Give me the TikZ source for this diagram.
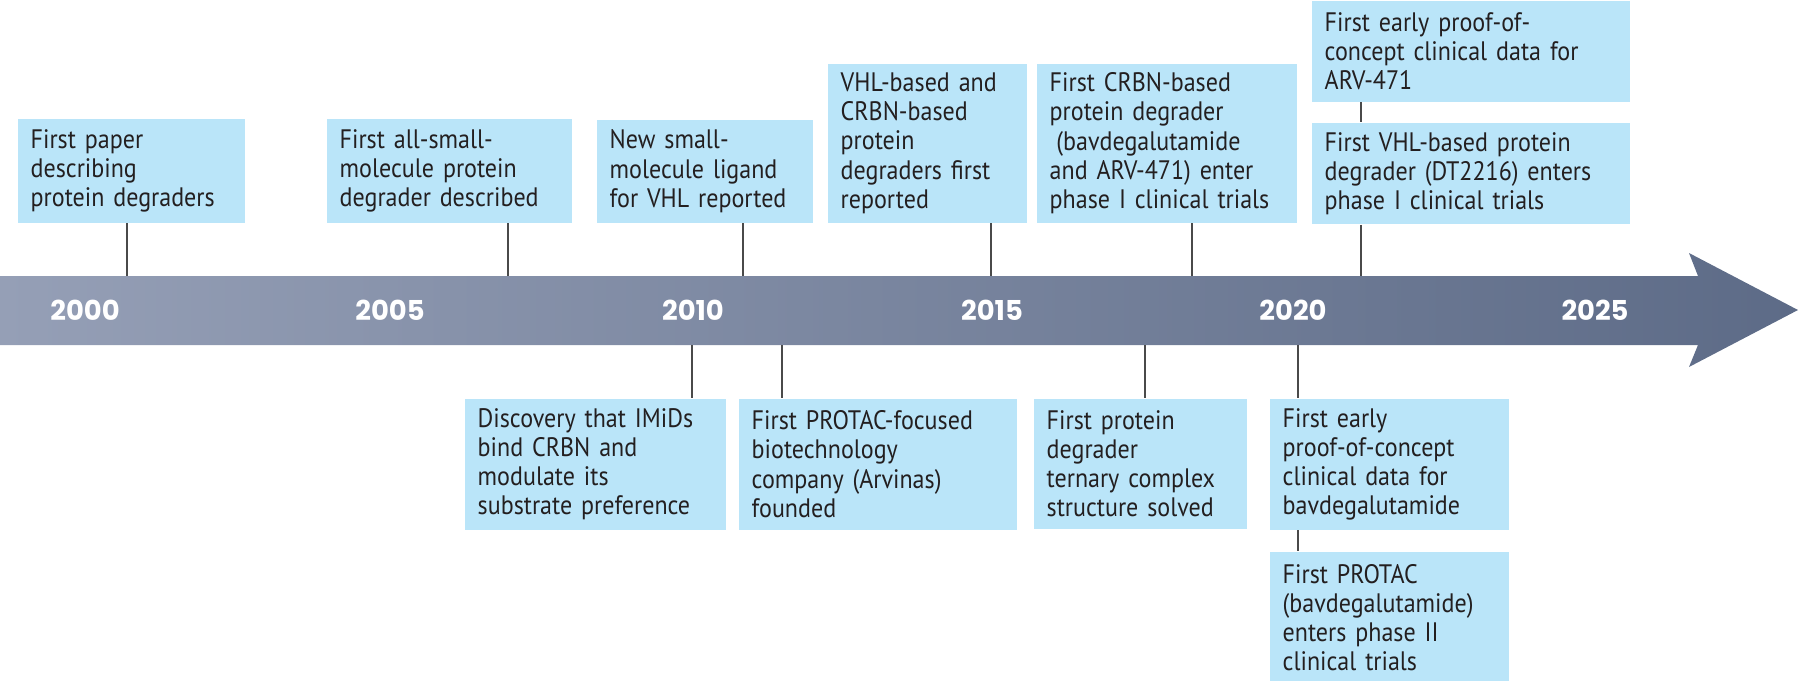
\documentclass[tikz,border=0pt]{standalone}
\usepackage{fontspec}
\setmainfont{PT Sans}[FakeStretch=0.9]
\newfontfamily\yearfont{Poppins}
\usetikzlibrary{positioning}
\usepackage{xcolor}
\definecolor{boxblue}{HTML}{BAE5F9}
\definecolor{bandleft}{HTML}{959FB6}
\definecolor{bandright}{HTML}{5D6B87}
\definecolor{stemgray}{HTML}{4A4A4A}
\definecolor{textdark}{HTML}{231F20}
\hyphenpenalty=10000

\begin{document}
\begin{tikzpicture}
      \tikzstyle{event} = [rectangle, fill=boxblue, anchor=north west, align=left, inner xsep=0.13cm, inner ysep=0pt, text=textdark, font=\fontsize{7.6}{8.3}\selectfont]
      \tikzstyle{year} = [text=white, font={\yearfont\bfseries\fontsize{7.8}{9}\selectfont}]
      \tikzstyle{stem} = [draw=stemgray, line width=0.45pt]

      \useasboundingbox (0,0) rectangle (18,-6.81);

      % timeline arrow
      \shade[left color=bandleft, right color=bandright] (0,-2.76) -- (16.98,-2.76) -- (16.89,-2.53) -- (17.98,-3.10) -- (16.89,-3.67) -- (16.98,-3.45) -- (0,-3.45) -- cycle;

      \node[year] (y2000) at (0.85,-3.10) {2000};
      \node[year] (y2005) at (3.90,-3.10) {2005};
      \node[year] (y2010) at (6.93,-3.10) {2010};
      \node[year] (y2015) at (9.92,-3.10) {2015};
      \node[year] (y2020) at (12.93,-3.10) {2020};
      \node[year] (y2025) at (15.95,-3.10) {2025};

      % where the stems meet the arrow
      \coordinate (s1) at (1.27,-2.76);
      \coordinate (s2) at (5.08,-2.76);
      \coordinate (s3) at (7.43,-2.76);
      \coordinate (s4) at (9.91,-2.76);
      \coordinate (s5) at (11.92,-2.76);
      \coordinate (s7) at (13.61,-2.76);
      \coordinate (s8) at (6.92,-3.45);
      \coordinate (s9) at (7.82,-3.45);
      \coordinate (s10) at (11.45,-3.45);
      \coordinate (s11) at (12.98,-3.45);

      % above the arrow
      \node[event, text width=2.01cm, minimum height=1.04cm] (b1) at (0.17,-1.18) {First paper\\describing\\protein degraders};
      \node[event, text width=2.19cm, minimum height=1.04cm] (b2) at (3.26,-1.18) {First all-small-\\molecule protein\\degrader described};
      \node[event, text width=1.90cm, minimum height=1.03cm] (b3) at (5.96,-1.19) {New small-\\molecule ligand\\for VHL reported};
      \node[event, text width=1.73cm, minimum height=1.59cm] (b4) at (8.27,-0.63) {VHL-based and\\CRBN-based\\protein\\degraders first\\reported};
      \node[event, text width=2.34cm, minimum height=1.59cm] (b5) at (10.36,-0.63) {First CRBN-based\\protein degrader\\\hspace*{0.25em}(bavdegalutamide\\and ARV-471) enter\\phase I clinical trials};
      \node[event, text width=2.92cm, minimum height=1.01cm] (b6) at (13.11,0) {First early proof-of-\\concept clinical data for\\ARV-471};
      \node[event, text width=2.92cm, minimum height=1.01cm, below=0.20cm of b6] (b7) {First VHL-based protein\\degrader (DT2216) enters\\phase I clinical trials};

      % below the arrow
      \node[event, text width=2.35cm, minimum height=1.31cm] (b8) at (4.64,-3.98) {Discovery that IMiDs\\bind CRBN and\\modulate its\\substrate preference};
      \node[event, text width=2.52cm, minimum height=1.31cm] (b9) at (7.38,-3.98) {First PROTAC-focused\\biotechnology\\company (Arvinas)\\founded};
      \node[event, text width=1.87cm, minimum height=1.30cm] (b10) at (10.33,-3.98) {First protein\\degrader\\ternary complex\\structure solved};
      \node[event, text width=2.13cm, minimum height=1.31cm] (b11) at (12.69,-3.98) {First early\\proof-of-concept\\clinical data for\\bavdegalutamide};
      \node[event, text width=2.13cm, minimum height=1.31cm, below=0.21cm of b11] (b12) {First PROTAC\\(bavdegalutamide)\\enters phase II\\clinical trials};

      % stems
      \draw[stem] (b1.south -| s1) -- (s1);
      \draw[stem] (b2.south -| s2) -- (s2);
      \draw[stem] (b3.south -| s3) -- (s3);
      \draw[stem] (b4.south -| s4) -- (s4);
      \draw[stem] (b5.south -| s5) -- (s5);
      \draw[stem] (b6.south -| s7) -- (b7.north -| s7);
      \draw[stem] (b7.south -| s7) -- (s7);
      \draw[stem] (s8) -- (s8 |- b8.north);
      \draw[stem] (s9) -- (s9 |- b9.north);
      \draw[stem] (s10) -- (s10 |- b10.north);
      \draw[stem] (s11) -- (s11 |- b11.north);
      \draw[stem] (b11.south -| s11) -- (b12.north -| s11);
    \end{tikzpicture}
\end{document}
